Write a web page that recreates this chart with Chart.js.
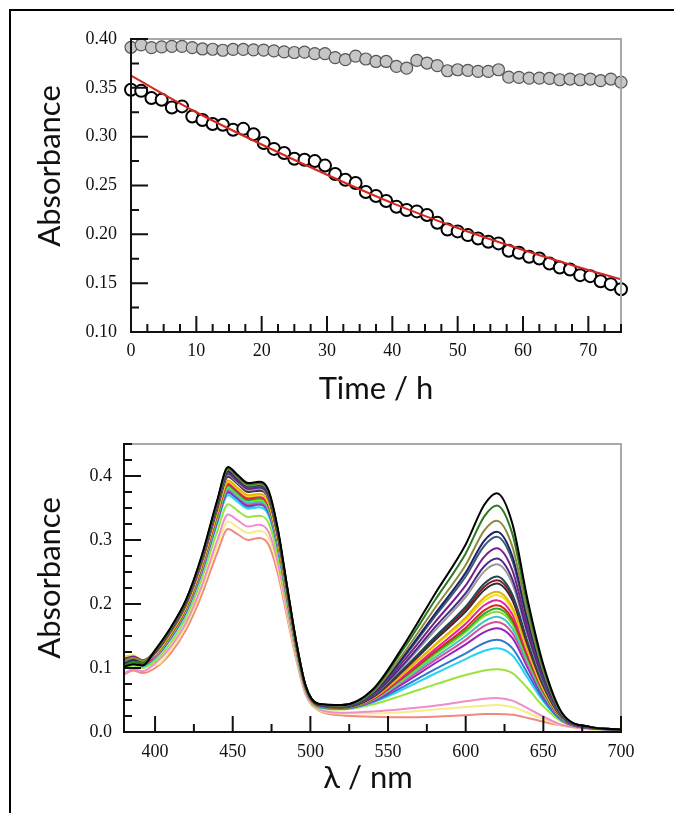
<!DOCTYPE html>
<html>
<head>
<meta charset="utf-8">
<script src="https://cdn.jsdelivr.net/npm/chart.js@4.4.0/dist/chart.umd.min.js"></script>
<style>
  html, body { margin: 0; padding: 0; background: #fff; }
  #page { position: relative; width: 682px; height: 813px; overflow: hidden; }
  #frame { position: absolute; left: 9px; top: 9px; width: 663px; height: 820px;
           border-left: 2px solid #000; border-top: 2px solid #000; }
  canvas { position: absolute; left: 0; }
  #kinetics { top: 0; }
  #spectra { top: 410px; }
</style>
</head>
<body>
<div id="page">
  <div id="frame"></div>
  <canvas id="kinetics" width="682" height="410"></canvas>
  <canvas id="spectra" width="682" height="403"></canvas>
</div>
<script>
/** 상단: 시간에 따른 흡광도 */
const hours = [0, 1.56, 3.13, 4.69, 6.25, 7.81, 9.38, 10.94, 12.5, 14.06, 15.63, 17.19, 18.75, 20.31, 21.88, 23.44, 25, 26.56, 28.13, 29.69, 31.25, 32.81, 34.38, 35.94, 37.5, 39.06, 40.63, 42.19, 43.75, 45.31, 46.88, 48.44, 50, 51.56, 53.13, 54.69, 56.25, 57.81, 59.38, 60.94, 62.5, 64.06, 65.63, 67.19, 68.75, 70.31, 71.88, 73.44, 75];
const absControl = [0.3915, 0.3940, 0.3912, 0.3920, 0.3925, 0.3925, 0.3912, 0.3898, 0.3895, 0.3885, 0.3893, 0.3893, 0.3888, 0.3886, 0.3878, 0.3868, 0.3862, 0.3866, 0.3850, 0.3850, 0.3810, 0.3788, 0.3825, 0.3795, 0.3770, 0.3770, 0.3720, 0.3702, 0.3781, 0.3754, 0.3727, 0.3675, 0.3685, 0.3679, 0.3668, 0.3668, 0.3685, 0.3610, 0.3607, 0.3600, 0.3600, 0.3596, 0.3583, 0.3590, 0.3583, 0.3590, 0.3573, 0.3590, 0.3558];
const absSample = [0.3480, 0.3469, 0.3395, 0.3378, 0.3299, 0.3310, 0.3207, 0.3170, 0.3129, 0.3122, 0.3071, 0.3080, 0.3025, 0.2935, 0.2875, 0.2832, 0.2774, 0.2764, 0.2750, 0.2704, 0.2617, 0.2559, 0.2525, 0.2434, 0.2393, 0.2341, 0.2283, 0.2249, 0.2235, 0.2198, 0.2119, 0.2050, 0.2030, 0.1992, 0.1958, 0.1924, 0.1907, 0.1832, 0.1811, 0.1770, 0.1753, 0.1702, 0.1661, 0.1640, 0.1582, 0.1572, 0.1520, 0.1490, 0.1438];
const fitHours = [0, 10, 20, 30, 40, 50, 60, 70, 75];
const fitAbs = [0.3624, 0.325, 0.292, 0.261, 0.232, 0.2065, 0.184, 0.1635, 0.154];
const timeTicks = [0, 10, 20, 30, 40, 50, 60, 70];
const absTicks = [0.10, 0.15, 0.20, 0.25, 0.30, 0.35, 0.40];

/** 하단: 흡수 스펙트럼 (파장 nm) */
const wavelengths = [380, 386, 392, 400, 410, 420, 430, 440, 447, 453, 460, 467, 473, 479, 485, 491, 497, 505, 520, 540, 560, 580, 600, 612, 620, 630, 640, 650, 662, 680, 700];
const spectra = [
  [0.102, 0.106, 0.104, 0.128, 0.163, 0.207, 0.275, 0.362, 0.414, 0.402, 0.389, 0.391, 0.378, 0.318, 0.228, 0.140, 0.072, 0.044, 0.042, 0.066, 0.135, 0.215, 0.293, 0.355, 0.373, 0.326, 0.205, 0.105, 0.030, 0.008, 0.004],
  [0.104, 0.110, 0.108, 0.127, 0.162, 0.206, 0.274, 0.360, 0.412, 0.400, 0.387, 0.389, 0.376, 0.316, 0.227, 0.139, 0.072, 0.044, 0.042, 0.064, 0.130, 0.205, 0.279, 0.337, 0.354, 0.310, 0.196, 0.101, 0.029, 0.008, 0.004],
  [0.111, 0.116, 0.111, 0.127, 0.161, 0.205, 0.272, 0.359, 0.410, 0.398, 0.385, 0.387, 0.375, 0.315, 0.226, 0.139, 0.071, 0.044, 0.041, 0.062, 0.123, 0.193, 0.261, 0.315, 0.330, 0.290, 0.184, 0.095, 0.028, 0.008, 0.004],
  [0.106, 0.112, 0.109, 0.126, 0.161, 0.204, 0.271, 0.357, 0.408, 0.396, 0.384, 0.386, 0.373, 0.314, 0.225, 0.138, 0.071, 0.043, 0.041, 0.061, 0.118, 0.184, 0.249, 0.299, 0.313, 0.275, 0.175, 0.091, 0.027, 0.008, 0.004],
  [0.110, 0.115, 0.111, 0.126, 0.160, 0.204, 0.271, 0.356, 0.407, 0.395, 0.383, 0.385, 0.372, 0.313, 0.225, 0.138, 0.071, 0.043, 0.040, 0.060, 0.116, 0.180, 0.243, 0.291, 0.305, 0.268, 0.171, 0.089, 0.027, 0.008, 0.004],
  [0.114, 0.118, 0.112, 0.125, 0.159, 0.203, 0.269, 0.354, 0.405, 0.393, 0.381, 0.383, 0.370, 0.312, 0.224, 0.137, 0.071, 0.043, 0.040, 0.059, 0.111, 0.171, 0.229, 0.274, 0.287, 0.253, 0.162, 0.085, 0.026, 0.007, 0.004],
  [0.112, 0.116, 0.110, 0.125, 0.159, 0.202, 0.269, 0.354, 0.404, 0.392, 0.380, 0.382, 0.369, 0.311, 0.223, 0.137, 0.071, 0.043, 0.039, 0.057, 0.106, 0.163, 0.217, 0.259, 0.271, 0.239, 0.154, 0.081, 0.025, 0.007, 0.004],
  [0.109, 0.114, 0.110, 0.125, 0.158, 0.201, 0.267, 0.352, 0.402, 0.390, 0.378, 0.380, 0.367, 0.309, 0.222, 0.137, 0.070, 0.043, 0.039, 0.057, 0.104, 0.158, 0.211, 0.251, 0.262, 0.232, 0.150, 0.079, 0.024, 0.007, 0.004],
  [0.107, 0.113, 0.109, 0.124, 0.158, 0.201, 0.267, 0.351, 0.401, 0.390, 0.377, 0.379, 0.367, 0.309, 0.222, 0.136, 0.070, 0.043, 0.039, 0.055, 0.099, 0.148, 0.196, 0.232, 0.243, 0.215, 0.140, 0.074, 0.023, 0.007, 0.004],
  [0.109, 0.114, 0.109, 0.124, 0.157, 0.200, 0.266, 0.350, 0.400, 0.389, 0.376, 0.378, 0.366, 0.308, 0.221, 0.136, 0.070, 0.043, 0.039, 0.055, 0.097, 0.146, 0.192, 0.227, 0.237, 0.211, 0.137, 0.073, 0.023, 0.007, 0.004],
  [0.105, 0.111, 0.108, 0.124, 0.157, 0.200, 0.266, 0.349, 0.399, 0.388, 0.375, 0.377, 0.365, 0.307, 0.221, 0.136, 0.070, 0.042, 0.038, 0.054, 0.096, 0.143, 0.188, 0.222, 0.232, 0.206, 0.135, 0.072, 0.023, 0.007, 0.004],
  [0.112, 0.116, 0.110, 0.122, 0.154, 0.197, 0.262, 0.344, 0.393, 0.382, 0.370, 0.372, 0.360, 0.303, 0.218, 0.134, 0.069, 0.042, 0.038, 0.053, 0.092, 0.136, 0.179, 0.210, 0.219, 0.195, 0.128, 0.069, 0.022, 0.007, 0.004],
  [0.118, 0.120, 0.112, 0.121, 0.154, 0.196, 0.261, 0.343, 0.391, 0.380, 0.368, 0.370, 0.358, 0.301, 0.217, 0.133, 0.069, 0.042, 0.038, 0.053, 0.091, 0.134, 0.175, 0.205, 0.214, 0.191, 0.126, 0.067, 0.022, 0.007, 0.004],
  [0.106, 0.112, 0.107, 0.121, 0.153, 0.195, 0.259, 0.341, 0.389, 0.378, 0.366, 0.368, 0.356, 0.300, 0.216, 0.133, 0.068, 0.041, 0.038, 0.052, 0.088, 0.129, 0.169, 0.198, 0.206, 0.184, 0.122, 0.066, 0.022, 0.007, 0.004],
  [0.106, 0.111, 0.106, 0.120, 0.152, 0.194, 0.258, 0.339, 0.387, 0.376, 0.364, 0.367, 0.354, 0.299, 0.215, 0.132, 0.068, 0.041, 0.038, 0.051, 0.086, 0.125, 0.163, 0.190, 0.198, 0.177, 0.118, 0.064, 0.021, 0.007, 0.004],
  [0.100, 0.106, 0.104, 0.120, 0.151, 0.193, 0.257, 0.338, 0.385, 0.374, 0.362, 0.365, 0.353, 0.297, 0.214, 0.132, 0.068, 0.041, 0.037, 0.051, 0.085, 0.123, 0.159, 0.185, 0.193, 0.173, 0.115, 0.062, 0.021, 0.007, 0.004],
  [0.105, 0.110, 0.106, 0.119, 0.150, 0.192, 0.256, 0.336, 0.383, 0.372, 0.361, 0.363, 0.351, 0.296, 0.213, 0.131, 0.068, 0.041, 0.037, 0.051, 0.083, 0.120, 0.156, 0.181, 0.188, 0.169, 0.113, 0.061, 0.021, 0.007, 0.004],
  [0.104, 0.110, 0.105, 0.118, 0.149, 0.191, 0.254, 0.333, 0.380, 0.369, 0.358, 0.360, 0.348, 0.293, 0.211, 0.130, 0.067, 0.040, 0.037, 0.050, 0.081, 0.116, 0.150, 0.173, 0.180, 0.162, 0.109, 0.059, 0.020, 0.007, 0.004],
  [0.104, 0.109, 0.105, 0.118, 0.148, 0.190, 0.252, 0.332, 0.378, 0.368, 0.356, 0.358, 0.347, 0.292, 0.210, 0.130, 0.067, 0.040, 0.037, 0.049, 0.079, 0.112, 0.144, 0.166, 0.172, 0.155, 0.105, 0.058, 0.020, 0.007, 0.004],
  [0.108, 0.112, 0.106, 0.117, 0.147, 0.189, 0.251, 0.330, 0.376, 0.366, 0.354, 0.357, 0.345, 0.291, 0.209, 0.129, 0.067, 0.040, 0.037, 0.048, 0.076, 0.107, 0.137, 0.156, 0.162, 0.147, 0.100, 0.055, 0.019, 0.006, 0.004],
  [0.103, 0.108, 0.104, 0.117, 0.147, 0.188, 0.250, 0.328, 0.374, 0.364, 0.352, 0.355, 0.343, 0.289, 0.208, 0.129, 0.066, 0.040, 0.036, 0.047, 0.071, 0.098, 0.123, 0.139, 0.144, 0.131, 0.091, 0.051, 0.018, 0.006, 0.004],
  [0.102, 0.108, 0.103, 0.115, 0.145, 0.186, 0.247, 0.325, 0.370, 0.360, 0.349, 0.351, 0.339, 0.286, 0.206, 0.127, 0.066, 0.039, 0.036, 0.046, 0.067, 0.091, 0.114, 0.127, 0.131, 0.120, 0.084, 0.048, 0.018, 0.006, 0.004],
  [0.099, 0.104, 0.100, 0.111, 0.139, 0.179, 0.239, 0.313, 0.356, 0.346, 0.336, 0.338, 0.327, 0.276, 0.199, 0.123, 0.064, 0.038, 0.035, 0.043, 0.058, 0.074, 0.089, 0.096, 0.098, 0.092, 0.068, 0.040, 0.016, 0.006, 0.004],
  [0.092, 0.098, 0.095, 0.107, 0.133, 0.171, 0.228, 0.299, 0.340, 0.331, 0.321, 0.324, 0.313, 0.265, 0.191, 0.119, 0.061, 0.036, 0.030, 0.032, 0.036, 0.041, 0.048, 0.052, 0.053, 0.049, 0.037, 0.024, 0.011, 0.005, 0.004],
  [0.116, 0.118, 0.108, 0.104, 0.128, 0.166, 0.222, 0.290, 0.329, 0.320, 0.311, 0.314, 0.304, 0.257, 0.186, 0.116, 0.060, 0.035, 0.029, 0.029, 0.031, 0.035, 0.039, 0.041, 0.042, 0.039, 0.030, 0.020, 0.010, 0.004, 0.003],
  [0.090, 0.096, 0.092, 0.100, 0.123, 0.160, 0.214, 0.280, 0.317, 0.309, 0.300, 0.303, 0.293, 0.248, 0.180, 0.112, 0.058, 0.034, 0.026, 0.024, 0.023, 0.024, 0.026, 0.028, 0.028, 0.027, 0.022, 0.016, 0.010, 0.005, 0.003]
];
const spectraColors = ['#000000', '#2d7a23', '#8c8a3c', '#1c2366', '#3f5b78', '#7b1f86', '#4a2c86', '#9a9a9a', '#1e4858', '#8e1b1b', '#2b2f3a', '#e5b50c', '#f2e21c', '#e41fa0', '#d9271c', '#2aae2a', '#86e02a', '#3cc6c4', '#d94f9c', '#9522c4', '#2f78cf', '#25d3f2', '#9ae33a', '#f08ccb', '#f7ec8a', '#f08a80'];
const nmTicks = [400, 450, 500, 550, 600, 650, 700];
const specAbsTicks = [0.0, 0.1, 0.2, 0.3, 0.4];

const tickFont = { family: "'Liberation Serif', 'Times New Roman', serif", size: 18 };
const titleFont = "31px Lato, 'Open Sans', 'DejaVu Sans', sans-serif";

/** 축 프레임과 안쪽 눈금 (주/보조) */
const frameTicks = {
  id: 'frameTicks',
  afterDatasetsDraw(chart, args, opts) {
    const { ctx, chartArea: a, scales: { x, y } } = chart;
    ctx.save();
    ctx.lineWidth = 2;
    ctx.strokeStyle = '#a8a8a8';
    ctx.beginPath();
    ctx.moveTo(a.left, a.top); ctx.lineTo(a.right, a.top); ctx.lineTo(a.right, a.bottom);
    ctx.stroke();

    ctx.strokeStyle = '#111';
    ctx.beginPath();
    ctx.moveTo(a.left, a.top - 1); ctx.lineTo(a.left, a.bottom); ctx.lineTo(a.right + 1, a.bottom);
    ctx.stroke();

    const isMajor = (v, step) => Math.abs(v / step - Math.round(v / step)) < 1e-6;
    ctx.beginPath();
    for (let v = opts.xStart; v <= x.max + 1e-9; v += opts.xMinor) {
      const px = x.getPixelForValue(v);
      const len = isMajor(v, opts.xMajor) ? opts.majorLen : opts.minorLen;
      ctx.moveTo(px, a.bottom); ctx.lineTo(px, a.bottom - len);
    }
    for (let v = y.min; v <= y.max + 1e-9; v += opts.yMinor) {
      const py = y.getPixelForValue(v);
      const len = isMajor(v, opts.yMajor) ? opts.majorLen + 1 : opts.minorLen;
      ctx.moveTo(a.left, py); ctx.lineTo(a.left + len, py);
    }
    ctx.stroke();
    ctx.restore();
  }
};

/** 축 제목 (회전 포함) */
const axisTitles = {
  id: 'axisTitles',
  afterDraw(chart, args, opts) {
    const ctx = chart.ctx;
    ctx.save();
    ctx.fillStyle = '#111';
    ctx.font = titleFont;
    ctx.textAlign = 'center';
    ctx.textBaseline = 'middle';
    opts.items.forEach(t => {
      ctx.save();
      ctx.translate(t.x, t.y);
      ctx.rotate(t.rot || 0);
      ctx.fillText(t.text, 0, 0);
      ctx.restore();
    });
    ctx.restore();
  }
};

function fixedWidth(w) { return s => { s.width = w; }; }
function fixedHeight(h) { return s => { s.height = h; }; }

/** 상단 차트 */
new Chart(document.getElementById('kinetics'), {
  type: 'line',
  data: {
    datasets: [
      {
        data: fitHours.map((t, i) => ({ x: t, y: fitAbs[i] })),
        borderColor: '#d6261e', borderWidth: 2, pointRadius: 0,
        cubicInterpolationMode: 'monotone', fill: false
      },
      {
        data: hours.map((t, i) => ({ x: t, y: absSample[i] })),
        showLine: false, pointRadius: 6, pointBorderWidth: 2,
        pointBorderColor: '#000', pointBackgroundColor: '#fff', clip: false
      },
      {
        data: hours.map((t, i) => ({ x: t, y: absControl[i] })),
        showLine: false, pointRadius: 6, pointBorderWidth: 1.2,
        pointBorderColor: '#555', pointBackgroundColor: '#c6c6c6', clip: false
      }
    ]
  },
  options: {
    responsive: false, animation: false, devicePixelRatio: 1,
    layout: { padding: { left: 0, top: 39, right: 61, bottom: 0 } },
    plugins: {
      legend: { display: false }, tooltip: { enabled: false },
      frameTicks: { xStart: 0, xMinor: 2.5, xMajor: 10, yMinor: 0.025, yMajor: 0.05, majorLen: 16, minorLen: 8 },
      axisTitles: { items: [
        { text: 'Absorbance', x: 50, y: 166, rot: -Math.PI / 2 },
        { text: 'Time / h', x: 376, y: 389 }
      ] }
    },
    scales: {
      x: {
        type: 'linear', min: 0, max: 75,
        grid: { display: false, drawTicks: false }, border: { display: false },
        afterBuildTicks: s => { s.ticks = timeTicks.map(v => ({ value: v })); },
        ticks: { font: tickFont, color: '#111', padding: 8, maxRotation: 0 },
        afterFit: fixedHeight(78)
      },
      y: {
        min: 0.10, max: 0.40,
        grid: { display: false, drawTicks: false }, border: { display: false },
        afterBuildTicks: s => { s.ticks = absTicks.map(v => ({ value: v })); },
        ticks: { font: tickFont, color: '#111', padding: 14, callback: v => v.toFixed(2) },
        afterFit: fixedWidth(131)
      }
    }
  },
  plugins: [frameTicks, axisTitles]
});

/** 하단 차트 */
new Chart(document.getElementById('spectra'), {
  type: 'line',
  data: {
    datasets: spectra.map((vals, k) => ({
      data: wavelengths.map((w, i) => ({ x: w, y: vals[i] })),
      borderColor: spectraColors[k], borderWidth: 2, pointRadius: 0,
      cubicInterpolationMode: 'monotone', fill: false
    }))
  },
  options: {
    responsive: false, animation: false, devicePixelRatio: 1,
    layout: { padding: { left: 0, top: 34, right: 61, bottom: 0 } },
    plugins: {
      legend: { display: false }, tooltip: { enabled: false },
      frameTicks: { xStart: 400, xMinor: 25, xMajor: 50, yMinor: 0.025, yMajor: 0.1, majorLen: 16, minorLen: 8 },
      axisTitles: { items: [
        { text: 'Absorbance', x: 50, y: 168, rot: -Math.PI / 2 },
        { text: 'λ / nm', x: 368, y: 368 }
      ] }
    },
    scales: {
      x: {
        type: 'linear', min: 380, max: 700,
        grid: { display: false, drawTicks: false }, border: { display: false },
        afterBuildTicks: s => { s.ticks = nmTicks.map(v => ({ value: v })); },
        ticks: { font: tickFont, color: '#111', padding: 9, maxRotation: 0 },
        afterFit: fixedHeight(81)
      },
      y: {
        min: 0, max: 0.45,
        grid: { display: false, drawTicks: false }, border: { display: false },
        afterBuildTicks: s => { s.ticks = specAbsTicks.map(v => ({ value: v })); },
        ticks: { font: tickFont, color: '#111', padding: 12, callback: v => v.toFixed(1) },
        afterFit: fixedWidth(124)
      }
    }
  },
  plugins: [frameTicks, axisTitles]
});
</script>
</body>
</html>
